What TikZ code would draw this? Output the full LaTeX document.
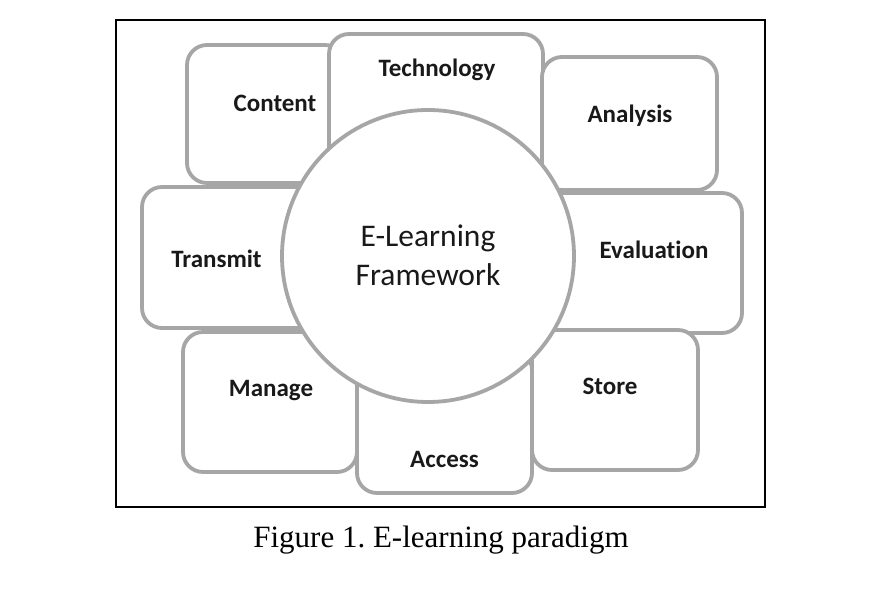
\documentclass[tikz,border=0pt]{standalone}
\usepackage{fontspec}
\setmainfont{Liberation Serif}
\newfontfamily\calfont[RawFeature={-liga;-dlig;-clig}]{Carlito}
\definecolor{boxgray}{RGB}{166,166,166}
\definecolor{inkc}{RGB}{25,25,25}
\frenchspacing
\begin{document}
\begin{tikzpicture}[x=1pt,y=-1pt,
  pbox/.style={draw=boxgray,line width=3.8pt,fill=white,rounded corners=20pt},
  plabel/.style={anchor=base,inner sep=0pt,text=inkc,font=\calfont\bfseries\fontsize{25}{30}\selectfont},
  ctext/.style={anchor=base,inner sep=0pt,text=inkc,font=\calfont\fontsize{31.5}{38}\selectfont},
  frame/.style={draw=black,line width=2pt}]
\useasboundingbox (0,0) rectangle (887,593);
\draw[frame] (116,20) rectangle (765,507);
% boxes
\draw[pbox] (187,45) rectangle (345,183);
\draw[pbox] (329,34) rectangle (543,180);
\draw[pbox] (542,57) rectangle (717,190);
\draw[pbox] (520,193) rectangle (742,333);
\draw[pbox] (142,187) rectangle (330,328);
\draw[pbox] (183,332) rectangle (357,472);
\draw[pbox] (357,350) rectangle (532,493);
\draw[pbox] (532,330) rectangle (698,470);
% centre circle
\node[circle,draw=boxgray,line width=3.8pt,fill=white,minimum size=292pt,inner sep=0pt] (hub) at (428,256) {};
% labels
\node[plabel] (content) at (275,112) {Content};
\node[plabel] (technology) at (437,77) {Technology};
\node[plabel] (analysis) at (630,123) {Analysis};
\node[plabel] (evaluation) at (654,259) {Evaluation};
\node[plabel] (transmit) at (216.5,268) {Transmit};
\node[plabel] (manage) at (271,397) {Manage};
\node[plabel] (store) at (610,395) {Store};
\node[plabel] (access) at (444.5,468) {Access};
\node[ctext] (hubA) at (428,247) {E-Learning};
\node[ctext] (hubB) at (428,286) {Framework};
\node[anchor=base,inner sep=0pt,font=\fontsize{31}{37}\selectfont] (caption) at (441,548) {Figure 1. E-learning paradigm};
\end{tikzpicture}
\end{document}
